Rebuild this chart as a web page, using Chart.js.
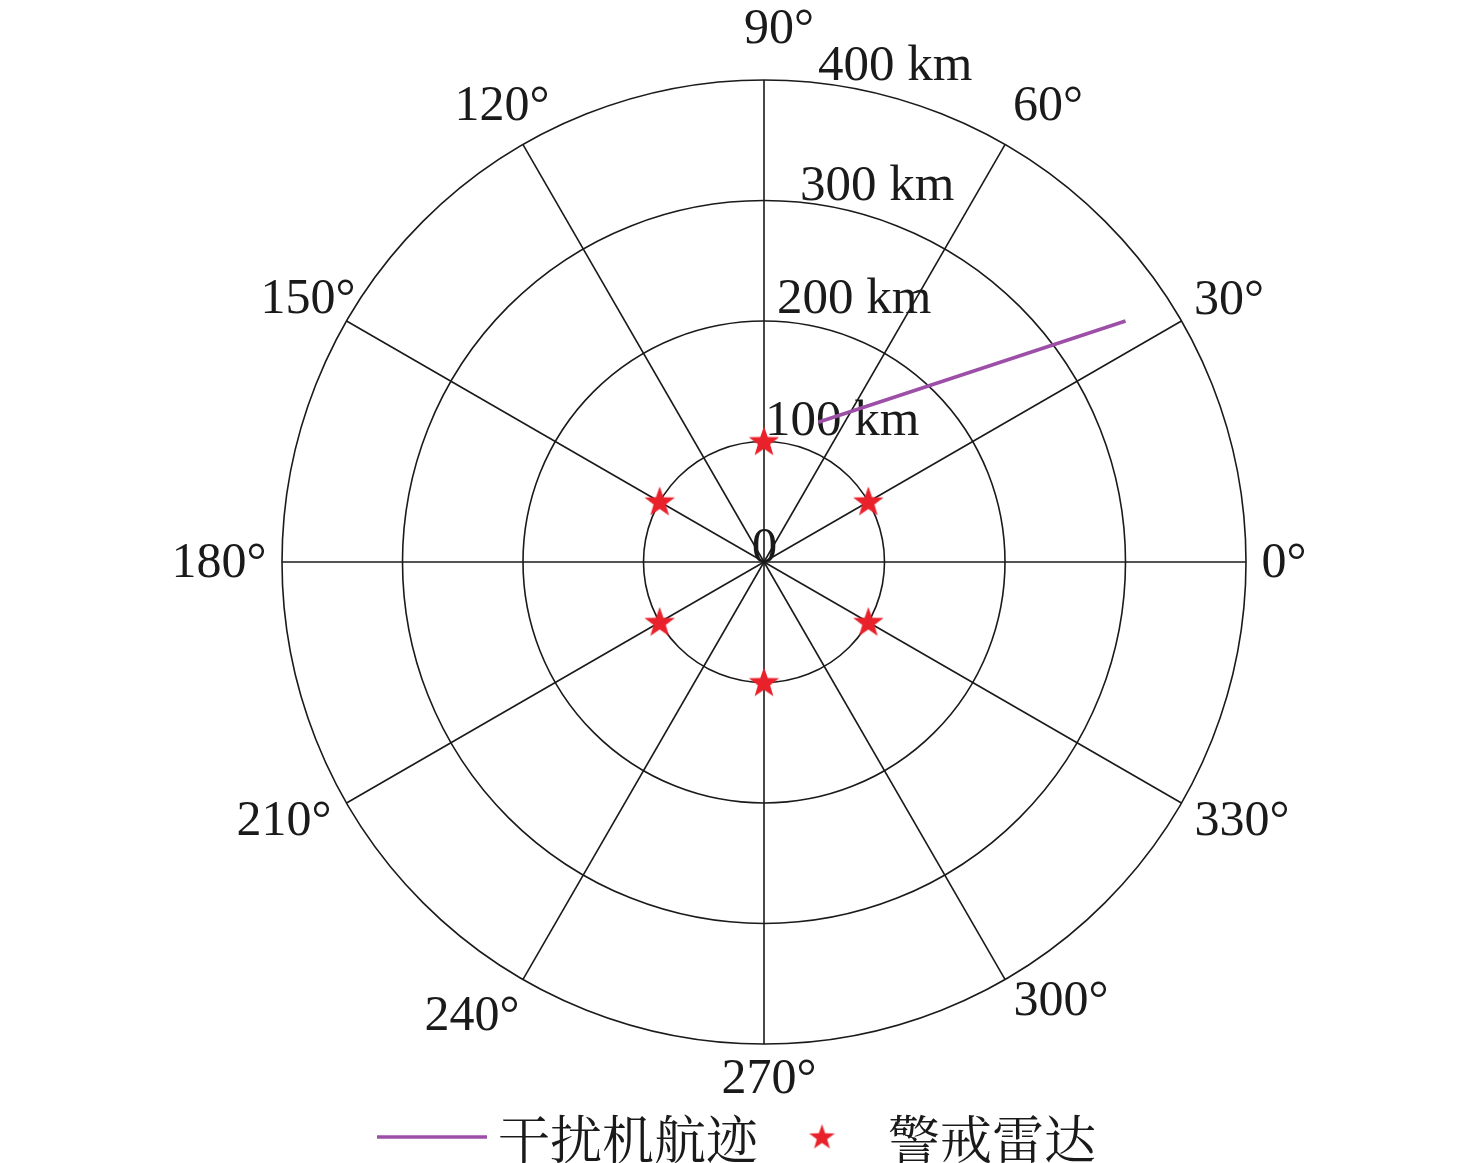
<!DOCTYPE html>
<html>
<head>
<meta charset="utf-8">
<script src="https://cdn.jsdelivr.net/npm/chart.js@4"></script>
<style>
html,body{margin:0;padding:0;background:#fff;}
#wrap{width:1476px;height:1163px;position:relative;}
</style>
</head>
<body>
<div id="wrap"><canvas id="c"></canvas></div>
<script>
// ---- data ----
const angleTicks = [0, 30, 60, 90, 120, 150, 180, 210, 240, 270, 300, 330];
const angleLabels = ['0°', '30°', '60°', '90°', '120°', '150°', '180°', '210°', '240°', '270°', '300°', '330°'];
const rangeTicks = [100, 200, 300, 400];
const rangeLabels = ['100 km', '200 km', '300 km', '400 km'];
const rangeMax = 400;
const radarAngles = [30, 90, 150, 210, 270, 330];   // degrees
const radarRanges = [100, 100, 100, 100, 100, 100]; // km
const trackX = [45, 300];   // km (east)
const trackY = [116, 200];  // km (north)
const legendLabels = ['干扰机航迹', '警戒雷达'];

// ---- layout (pixel nudges for text) ----
const angleLabelOffsets = [
  [520, 15], [465, -248], [284, -442], [15, -519], [-262, -442], [-456, -249],
  [-545, 15], [-480, 273], [-292, 468], [5, 531], [297, 453], [478, 273]
];
const rangeLabelOffsets = [[1, -127], [13, -249], [36, -362], [54, -482]];

const LATIN = '"Liberation Serif", "DejaVu Serif", serif';
const CJK = '"Noto Serif CJK SC", "Noto Sans CJK SC", sans-serif';
const PURPLE = '#9d4fa8';
const RED = '#e8212b';

function makeStar(size) {
  const cv = document.createElement('canvas');
  cv.width = size; cv.height = size;
  const g = cv.getContext('2d');
  const R = size / 2, r = R * 0.4;
  g.beginPath();
  for (let i = 0; i < 10; i++) {
    const rad = i % 2 === 0 ? R : r;
    const a = -Math.PI / 2 + i * Math.PI / 5;
    const px = R + rad * Math.cos(a), py = R + rad * Math.sin(a) + R * 0.05;
    if (i === 0) g.moveTo(px, py); else g.lineTo(px, py);
  }
  g.closePath();
  g.fillStyle = RED;
  g.fill();
  return cv;
}
const starImg = makeStar(32);
const legendStar = makeStar(27);

const radarPoints = radarAngles.map((a, i) => ({
  x: radarRanges[i] * Math.cos(a * Math.PI / 180),
  y: radarRanges[i] * Math.sin(a * Math.PI / 180)
}));
const trackPoints = trackX.map((x, i) => ({ x: x, y: trackY[i] }));

const polarGrid = {
  id: 'polarGrid',
  beforeDatasetsDraw(chart) {
    const ctx = chart.ctx;
    const xs = chart.scales.x, ys = chart.scales.y;
    const cx = xs.getPixelForValue(0), cy = ys.getPixelForValue(0);
    const rp = v => xs.getPixelForValue(v) - cx;
    ctx.save();
    // range labels
    ctx.fillStyle = '#1a1a1a';
    ctx.font = '51px ' + LATIN;
    ctx.textAlign = 'left';
    ctx.textBaseline = 'alphabetic';
    rangeTicks.forEach((t, i) => {
      const o = rangeLabelOffsets[i];
      ctx.fillText(rangeLabels[i], cx + o[0], cy + o[1]);
    });
    ctx.textAlign = 'center';
    ctx.fillText('0', cx + 0.5, cy);
    // circles
    ctx.strokeStyle = '#1a1a1a';
    ctx.lineWidth = 1.6;
    rangeTicks.forEach(t => {
      ctx.beginPath();
      ctx.arc(cx, cy, rp(t), 0, Math.PI * 2);
      ctx.stroke();
    });
    // spokes
    angleTicks.forEach(a => {
      const rad = a * Math.PI / 180;
      ctx.beginPath();
      ctx.moveTo(cx, cy);
      ctx.lineTo(xs.getPixelForValue(rangeMax * Math.cos(rad)), ys.getPixelForValue(rangeMax * Math.sin(rad)));
      ctx.stroke();
    });
    // angle labels
    ctx.font = '50px ' + LATIN;
    ctx.textAlign = 'center';
    angleTicks.forEach((a, i) => {
      const o = angleLabelOffsets[i];
      ctx.fillText(angleLabels[i], cx + o[0], cy + o[1]);
    });
    ctx.restore();
  },
  afterDraw(chart) {
    const ctx = chart.ctx;
    ctx.save();
    const ly = 1137;
    ctx.strokeStyle = PURPLE;
    ctx.lineWidth = 3.5;
    ctx.beginPath();
    ctx.moveTo(377, ly); ctx.lineTo(487, ly);
    ctx.stroke();
    ctx.fillStyle = '#1a1a1a';
    ctx.font = '52px ' + CJK;
    ctx.textAlign = 'left';
    ctx.textBaseline = 'middle';
    ctx.fillText(legendLabels[0], 498, ly + 2);
    ctx.drawImage(legendStar, 822 - legendStar.width / 2, ly - legendStar.height / 2);
    ctx.fillText(legendLabels[1], 888, ly + 2);
    ctx.restore();
  }
};

new Chart(document.getElementById('c'), {
  type: 'scatter',
  data: {
    datasets: [
      {
        label: legendLabels[0],
        data: trackPoints,
        showLine: true,
        borderColor: PURPLE,
        backgroundColor: PURPLE,
        borderWidth: 3.5,
        pointRadius: 0,
        pointHoverRadius: 0,
        clip: false
      },
      {
        label: legendLabels[1],
        data: radarPoints,
        pointStyle: starImg,
        pointRadius: 16,
        clip: false
      }
    ]
  },
  options: {
    responsive: true,
    maintainAspectRatio: false,
    animation: false,
    events: [],
    layout: { padding: { left: 282, right: 230, top: 80, bottom: 119 } },
    scales: {
      x: { type: 'linear', min: -rangeMax, max: rangeMax, display: false },
      y: { type: 'linear', min: -rangeMax, max: rangeMax, display: false }
    },
    plugins: { legend: { display: false }, tooltip: { enabled: false } }
  },
  plugins: [polarGrid]
});
</script>
</body>
</html>
